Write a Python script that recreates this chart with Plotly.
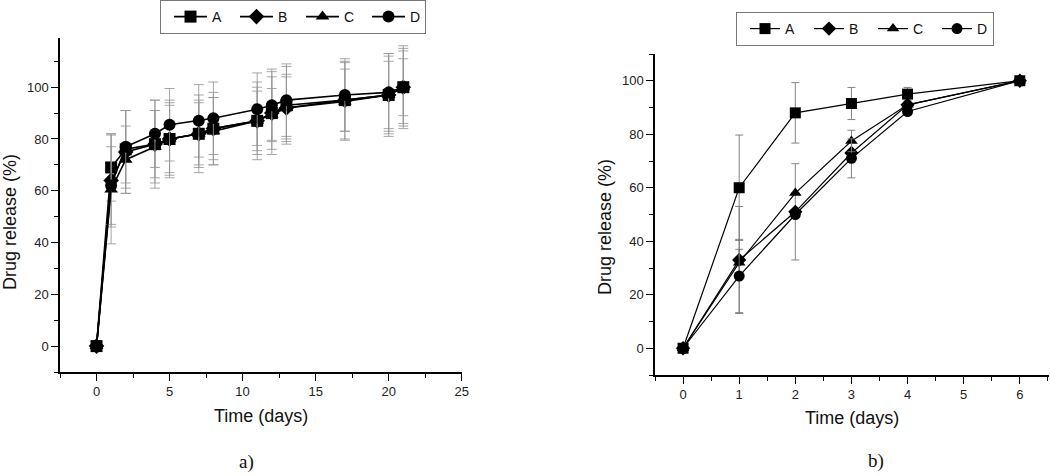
import plotly.graph_objects as go

W, H = 1050, 476


def px(x):
    return x / W


def py(y):
    return 1 - y / H


series = ["A", "B", "C", "D"]
symbols = ["square", "diamond", "triangle-up", "circle"]

# ---- panel a) ----
days_a = [0, 1, 2, 4, 5, 7, 8, 11, 12, 13, 17, 20, 21]
a_A = [0, 69, 76, 78, 80, 82, 84, 87, 90, 93, 95, 97, 100]
a_B = [0, 64, 75, 78, 80, 82, 84, 87, 90, 92, 95, 97, 100]
a_C = [0, 60.5, 72, 77, 80, 82, 83, 87, 89.5, 92, 94.5, 97, 100]
a_D = [0, 62, 77, 82, 85.5, 87, 88, 91.5, 93, 95, 97, 98, 100]
a_A_err = [0, 13, 15, 13, 13, 12, 12, 13, 14, 15, 15, 13, 16]
a_B_err = [0, 18, 16, 17, 14, 13, 14, 15, 16, 13, 12, 15, 15]
a_C_err = [0, 21, 13, 14, 15, 15, 13, 11.5, 10, 12, 15, 16, 11]
a_D_err = [0, 15, 14, 13, 14, 14, 14, 14, 14, 14, 14, 15, 14]

# ---- panel b) ----
days_b = [0, 1, 2, 3, 4, 6]
b_A = [0, 60, 88, 91.5, 95, 100]
b_B = [0, 33, 51, 73, 91, 100]
b_C = [0, 32, 58, 77.5, 91, 100]
b_D = [0, 27, 50, 71, 88.5, 100]
b_A_err = [0, 19.7, 11.3, 6, 2.5, 0]
b_B_err = [0, 20, 18, 0, 0, 0]
b_C_err = [0, 5, 0, 4, 0, 0]
b_D_err = [0, 13.7, 0, 7.3, 0, 0]

fig = go.Figure()

a_vals = [a_A, a_B, a_C, a_D]
a_errs = [a_A_err, a_B_err, a_C_err, a_D_err]
b_vals = [b_A, b_B, b_C, b_D]
b_errs = [b_A_err, b_B_err, b_C_err, b_D_err]

for name, sym, ys, es in zip(series, symbols, a_vals, a_errs):
    fig.add_trace(go.Scatter(
        x=days_a, y=ys, name=name, mode="lines+markers",
        line=dict(color="black", width=1.6),
        marker=dict(symbol=sym, size=12, color="black"),
        error_y=dict(type="data", array=es, visible=True,
                     color="rgba(150,150,150,0.85)", thickness=1, width=5),
        xaxis="x", yaxis="y", legend="legend"))

for name, sym, ys, es in zip(series, symbols, b_vals, b_errs):
    fig.add_trace(go.Scatter(
        x=days_b, y=ys, name=name, mode="lines+markers",
        line=dict(color="black", width=1.2),
        marker=dict(symbol=sym, size=11, color="black"),
        error_y=dict(type="data", array=es, visible=True,
                     color="rgba(120,120,120,0.9)", thickness=1, width=4),
        xaxis="x2", yaxis="y2", legend="legend2"))

tickfont = dict(family="Arial, Liberation Sans, sans-serif", size=13, color="#222")
axis_common = dict(showline=True, linecolor="black", linewidth=1.5, showgrid=False,
                   zeroline=False, ticks="outside", ticklen=7, tickwidth=1.2,
                   tickcolor="black", tickfont=tickfont, automargin=False)
legfont = dict(size=14, family="Arial, Liberation Sans, sans-serif", color="#111")

fig.update_layout(
    width=W, height=H, margin=dict(l=0, r=0, t=0, b=0),
    paper_bgcolor="white", plot_bgcolor="white",
    font=dict(family="Arial, Liberation Sans, sans-serif", color="black"),
    xaxis=dict(domain=[px(60), px(462)], range=[-2.5, 25.02], dtick=5, tick0=0,
               anchor="y",
               minor=dict(dtick=2.5, tick0=0, ticks="outside", ticklen=4, tickcolor="black"),
               **axis_common),
    yaxis=dict(domain=[py(372), py(38)], range=[-10, 119], dtick=20, tick0=0,
               anchor="x",
               minor=dict(dtick=10, tick0=0, ticks="outside", ticklen=4, tickcolor="black"),
               **axis_common),
    xaxis2=dict(domain=[px(655), px(1049)], range=[-0.5, 6.52], dtick=1, tick0=0,
                anchor="y2",
                minor=dict(dtick=0.5, tick0=0, ticks="outside", ticklen=4, tickcolor="black"),
                **axis_common),
    yaxis2=dict(domain=[py(375), py(54)], range=[-10, 110], dtick=20, tick0=0,
                anchor="x2",
                minor=dict(dtick=10, tick0=0, ticks="outside", ticklen=4, tickcolor="black"),
                **axis_common),
    legend=dict(orientation="h", x=px(160), y=py(0), xanchor="left", yanchor="top",
                bordercolor="#777", borderwidth=1, bgcolor="white",
                indentation=8, itemwidth=33, entrywidth=10, entrywidthmode="pixels",
                font=legfont),
    legend2=dict(orientation="h", x=px(736), y=py(12), xanchor="left", yanchor="top",
                 bordercolor="#777", borderwidth=1, bgcolor="white",
                 indentation=8, itemwidth=30, entrywidth=11, entrywidthmode="pixels",
                 font=legfont),
    showlegend=True,
)

title_font = dict(family="Arial, Liberation Sans, sans-serif", size=18, color="#111")
serif = dict(family="Liberation Serif, Times New Roman, serif", size=19, color="#111")
ann = [
    dict(x=px(10), y=py(222), text="Drug release (%)", textangle=-90, font=title_font),
    dict(x=px(261), y=py(416), text="Time (days)", font=title_font),
    dict(x=px(605), y=py(227), text="Drug release (%)", textangle=-90, font=title_font),
    dict(x=px(852), y=py(418), text="Time (days)", font=title_font),
    dict(x=px(246), y=py(462), text="a)", font=serif),
    dict(x=px(876), y=py(461), text="b)", font=serif),
]
for a in ann:
    fig.add_annotation(xref="paper", yref="paper", showarrow=False,
                       xanchor="center", yanchor="middle", **a)

fig.write_html("out.html", config={"displayModeBar": False},
               post_script="document.body.style.margin='0px';")
